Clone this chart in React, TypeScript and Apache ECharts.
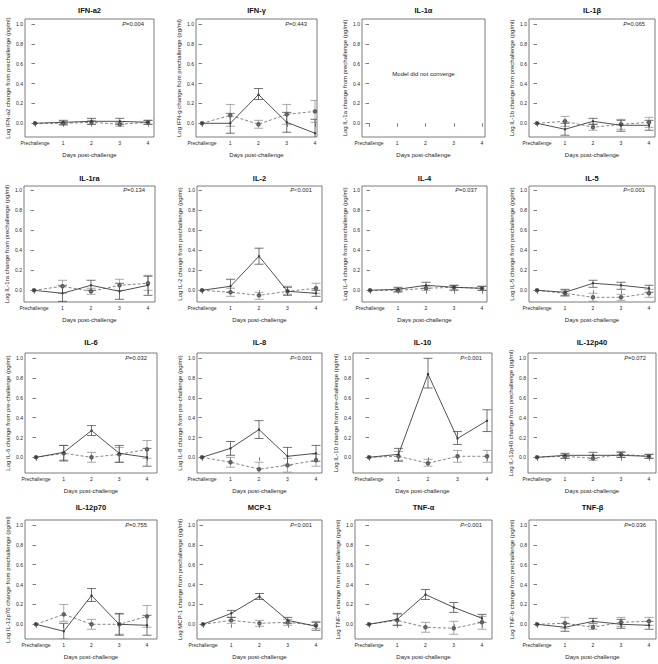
import React, { useEffect, useRef } from "react";
import * as echarts from "echarts";

const days = [0, 1, 2, 3, 4];
const dayLabels = ["Prechallenge", "1", "2", "3", "4"];
const yTicks = [0, 0.2, 0.4, 0.6, 0.8, 1.0];

const panelNames = ["IFN-a2", "IFN-γ", "IL-1α", "IL-1β", "IL-1ra", "IL-2", "IL-4", "IL-5", "IL-6", "IL-8", "IL-10", "IL-12p40", "IL-12p70", "MCP-1", "TNF-α", "TNF-β"];

const yNames = [
  "Log IFN-a2 change from prechallenge (pg/ml)",
  "Log IFN-g change from prechallenge (pg/ml)",
  "Log IL-1a change from prechallenge (pg/ml)",
  "Log IL-1b change from prechallenge (pg/ml)",
  "Log IL-1ra change from prechallenge (pg/ml)",
  "Log IL-2 change from prechallenge (pg/ml)",
  "Log IL-4 change from prechallenge (pg/ml)",
  "Log IL-5 change from prechallenge (pg/ml)",
  "Log IL-6 change from pre-challenge (pg/ml)",
  "Log IL-8 change from pre-challenge (pg/ml)",
  "Log IL-10 change from pre-challenge (pg/ml)",
  "Log IL-12p40 change from prechallenge (pg/ml)",
  "Log IL-12p70 change from prechallenge (pg/ml)",
  "Log MCP-1 change from prechallenge (pg/ml)",
  "Log TNF-a change from prechallenge (pg/ml)",
  "Log TNF-b change from prechallenge (pg/ml)",
];

const pValues = ["=0.004", "=0.443", "", "=0.065", "=0.134", "<0.001", "=0.037", "<0.001", "=0.032", "<0.001", "<0.001", "=0.072", "=0.755", "<0.001", "<0.001", "=0.036"];

const xAxisName = "Days post-challenge";
const noModelNote = "Model did not converge";

// Solid line (challenged group)
const solidMean = [
  [0, 0.01, 0.02, 0.02, 0.01],
  [0, 0.0, 0.29, 0.01, -0.1],
  null,
  [0, -0.06, 0.02, -0.02, -0.02],
  [0, -0.03, 0.05, -0.01, 0.05],
  [0, 0.04, 0.34, -0.01, -0.03],
  [0, 0.01, 0.05, 0.03, 0.02],
  [0, -0.02, 0.07, 0.05, 0.02],
  [0, 0.05, 0.27, 0.04, 0.0],
  [0, 0.09, 0.28, 0.01, 0.04],
  [0, 0.03, 0.84, 0.19, 0.37],
  [0, 0.02, 0.02, 0.02, 0.01],
  [0, -0.07, 0.29, 0.0, -0.01],
  [0, 0.11, 0.28, 0.04, -0.02],
  [0, 0.05, 0.3, 0.17, 0.06],
  [0, -0.03, 0.03, 0.0, -0.01],
];
const solidLow = [
  [0, -0.01, -0.01, -0.01, -0.01],
  [0, -0.1, 0.24, -0.09, -0.24],
  null,
  [0, -0.12, -0.01, -0.08, -0.07],
  [0, -0.11, 0.0, -0.09, -0.05],
  [0, -0.02, 0.26, -0.05, -0.06],
  [0, -0.01, 0.02, 0.0, 0.0],
  [0, -0.05, 0.03, 0.01, -0.02],
  [0, -0.03, 0.22, -0.05, -0.09],
  [0, 0.02, 0.19, -0.08, -0.04],
  [0, -0.04, 0.7, 0.13, 0.26],
  [0, -0.01, -0.01, 0.0, -0.01],
  [0, -0.15, 0.23, -0.11, -0.11],
  [0, 0.07, 0.25, 0.01, -0.06],
  [0, -0.01, 0.25, 0.12, 0.02],
  [0, -0.07, 0.01, -0.04, -0.05],
];
const solidHigh = [
  [0, 0.03, 0.05, 0.05, 0.03],
  [0, 0.1, 0.35, 0.11, 0.04],
  null,
  [0, 0.0, 0.05, 0.03, 0.03],
  [0, 0.05, 0.1, 0.07, 0.14],
  [0, 0.11, 0.42, 0.03, 0.0],
  [0, 0.03, 0.08, 0.05, 0.04],
  [0, 0.01, 0.1, 0.08, 0.05],
  [0, 0.12, 0.32, 0.12, 0.09],
  [0, 0.16, 0.37, 0.1, 0.12],
  [0, 0.09, 1.0, 0.26, 0.48],
  [0, 0.04, 0.05, 0.05, 0.03],
  [0, 0.01, 0.36, 0.11, 0.09],
  [0, 0.14, 0.31, 0.07, 0.02],
  [0, 0.11, 0.35, 0.22, 0.1],
  [0, 0.01, 0.06, 0.05, 0.03],
];

// Dashed line (control group)
const dashedMean = [
  [0, 0.0, 0.01, -0.01, 0.01],
  [0, 0.08, -0.01, 0.09, 0.12],
  null,
  [0, 0.02, -0.04, -0.01, 0.01],
  [0, 0.04, -0.01, 0.05, 0.07],
  [0, -0.02, -0.05, -0.01, 0.02],
  [0, 0.0, 0.02, 0.03, 0.02],
  [0, -0.03, -0.07, -0.07, -0.03],
  [0, 0.04, 0.0, 0.03, 0.08],
  [0, -0.05, -0.12, -0.08, -0.03],
  [0, 0.01, -0.06, 0.01, 0.01],
  [0, 0.01, -0.01, 0.03, 0.01],
  [0, 0.1, 0.0, 0.0, 0.08],
  [0, 0.04, 0.01, 0.02, -0.01],
  [0, 0.04, -0.03, -0.04, 0.02],
  [0, 0.01, -0.03, 0.02, 0.03],
];
const dashedLow = [
  [0, -0.02, -0.01, -0.03, -0.01],
  [0, -0.03, -0.05, -0.01, 0.01],
  null,
  [0, -0.03, -0.07, -0.06, -0.04],
  [0, -0.03, -0.04, 0.0, 0.0],
  [0, -0.06, -0.09, -0.04, -0.03],
  [0, -0.02, 0.0, 0.01, 0.0],
  [0, -0.06, -0.11, -0.1, -0.07],
  [0, -0.04, -0.05, -0.05, -0.01],
  [0, -0.1, -0.18, -0.15, -0.09],
  [0, -0.03, -0.09, -0.05, -0.05],
  [0, -0.01, -0.03, 0.0, -0.01],
  [0, 0.03, -0.05, -0.1, -0.03],
  [0, 0.01, -0.02, -0.01, -0.04],
  [0, -0.01, -0.08, -0.1, -0.05],
  [0, -0.04, -0.05, -0.02, -0.01],
];
const dashedHigh = [
  [0, 0.02, 0.03, 0.01, 0.03],
  [0, 0.19, 0.03, 0.19, 0.23],
  null,
  [0, 0.07, -0.01, 0.04, 0.06],
  [0, 0.1, 0.02, 0.11, 0.15],
  [0, 0.02, -0.02, 0.04, 0.07],
  [0, 0.02, 0.04, 0.05, 0.04],
  [0, 0.0, -0.03, -0.04, 0.01],
  [0, 0.12, 0.05, 0.1, 0.17],
  [0, 0.0, -0.05, -0.01, 0.03],
  [0, 0.06, -0.02, 0.07, 0.07],
  [0, 0.03, 0.02, 0.06, 0.03],
  [0, 0.2, 0.05, 0.1, 0.19],
  [0, 0.07, 0.04, 0.05, 0.03],
  [0, 0.1, 0.02, 0.03, 0.08],
  [0, 0.07, -0.01, 0.07, 0.07],
];

// Layout (pixels): per row [boxTop, boxBottom, pixel of 1.0, pixel of 0.0, title y]
const rowBox = [
  [19, 137, 24, 123.3, 10],
  [186, 302, 190, 290.3, 178],
  [353, 473, 358.3, 457.3, 342],
  [520, 639, 525, 624.3, 507],
];
// per panel [boxLeft, boxRight, pixel of Prechallenge, pixel of day 4]
const panelX = [
  [25, 154, 35, 148], [196, 317, 202, 315], [362, 485, 369, 482], [529, 655, 537, 649],
  [24, 155, 34, 148], [197, 322, 202, 316], [362, 487, 370, 482], [529, 655, 537, 649],
  [25, 157, 36, 147], [197, 322, 202, 316], [353, 492, 369, 487], [528, 656, 537, 649],
  [25, 157, 36, 147], [197, 322, 203, 316], [355, 492, 369, 482], [529, 656, 537, 649],
];

const FONT = "'Liberation Sans', Arial, Helvetica, sans-serif";
const SOLID = "#3c3c3c";
const DASHED = "#5e5e5e";
const SOLID_BAR = "#444444";
const DASHED_BAR = "#8c8c8c";
const TEXT = "#262626";

function errorBarRenderer(color: string) {
  return (params: any, api: any) => {
    const x = api.value(0);
    const lo = api.value(1);
    const hi = api.value(2);
    const p1 = api.coord([x, lo]);
    const p2 = api.coord([x, hi]);
    const hw = 4.5;
    const style = { stroke: color, lineWidth: 0.75, fill: null };
    return {
      type: "group",
      children: [
        { type: "line", shape: { x1: p1[0], y1: p1[1], x2: p2[0], y2: p2[1] }, style },
        { type: "line", shape: { x1: p1[0] - hw, y1: p1[1], x2: p1[0] + hw, y2: p1[1] }, style },
        { type: "line", shape: { x1: p2[0] - hw, y1: p2[1], x2: p2[0] + hw, y2: p2[1] }, style },
      ],
    };
  };
}

function buildOption() {
  const grid: any[] = [];
  const xAxis: any[] = [];
  const yAxis: any[] = [];
  const series: any[] = [];
  const graphic: any[] = [];

  for (let i = 0; i < 16; i++) {
    const r = Math.floor(i / 4);
    const [top, bottom, y1, y0, titleY] = rowBox[r];
    const [bl, br, xp, x4] = panelX[i];
    const ppu = y0 - y1;
    const yMin = -(bottom - y0) / ppu;
    const yMax = 1 + (y1 - top) / ppu;
    const xpu = (x4 - xp) / 4;
    const xMin = -(xp - bl) / xpu;
    const xMax = 4 + (br - x4) / xpu;

    grid.push({
      left: bl,
      top,
      width: br - bl,
      height: bottom - top,
      show: true,
      borderColor: "#5a5a5a",
      borderWidth: 0.8,
      backgroundColor: "transparent",
      containLabel: false,
      outerBoundsMode: "none",
    });

    xAxis.push({
      type: "value",
      gridIndex: i,
      min: xMin,
      max: xMax,
      axisLine: { show: false },
      splitLine: { show: false },
      axisTick: { show: true, inside: false, length: 3.5, customValues: days, lineStyle: { color: "#5a5a5a", width: 0.8 } },
      axisLabel: {
        customValues: days,
        formatter: (v: number) => {
          const k = days.indexOf(v);
          return k >= 0 ? dayLabels[k] : "";
        },
        fontSize: 5,
        fontFamily: FONT,
        color: TEXT,
        margin: 3,
      },
      name: xAxisName,
      nameLocation: "middle",
      nameGap: 15,
      nameTextStyle: { fontSize: 6, fontFamily: FONT, color: TEXT },
    });

    yAxis.push({
      type: "value",
      gridIndex: i,
      min: yMin,
      max: yMax,
      axisLine: { show: false },
      splitLine: { show: false },
      axisTick: { show: true, inside: false, length: 3.5, customValues: yTicks, lineStyle: { color: "#5a5a5a", width: 0.8 } },
      axisLabel: {
        customValues: yTicks,
        formatter: (v: number) => v.toFixed(1),
        fontSize: 5,
        fontFamily: FONT,
        color: TEXT,
        margin: 2,
      },
      name: yNames[i],
      nameLocation: "middle",
      nameGap: 14,
      nameTextStyle: { fontSize: 6, fontFamily: FONT, color: TEXT },
    });

    graphic.push({
      type: "text",
      x: (bl + br) / 2,
      y: titleY,
      style: { text: panelNames[i], fontSize: 7.5, fontWeight: "bold", fontFamily: FONT, fill: "#111", align: "center", verticalAlign: "middle" },
    });

    if (pValues[i]) {
      graphic.push({
        type: "text",
        x: br - 10,
        y: y1,
        style: {
          text: "{i|P}" + pValues[i],
          fontSize: 5.8,
          fontFamily: FONT,
          fill: TEXT,
          align: "right",
          verticalAlign: "middle",
          rich: { i: { fontStyle: "italic", fontSize: 5.8, fontFamily: FONT, fill: TEXT } },
        },
      });
    }

    const sm = solidMean[i];
    if (!sm) {
      graphic.push({
        type: "text",
        x: (bl + br) / 2,
        y: y0 - 0.5 * ppu,
        style: { text: noModelNote, fontSize: 6, fontFamily: FONT, fill: TEXT, align: "center", verticalAlign: "middle" },
      });
      continue;
    }
    const dm = dashedMean[i]!;
    const sl = solidLow[i]!;
    const sh = solidHigh[i]!;
    const dl = dashedLow[i]!;
    const dh = dashedHigh[i]!;

    series.push({
      type: "custom",
      xAxisIndex: i,
      yAxisIndex: i,
      clip: true,
      renderItem: errorBarRenderer(DASHED_BAR),
      data: days.slice(1).map((d) => [d, dl[d], dh[d]]),
      z: 2,
    });
    series.push({
      type: "custom",
      xAxisIndex: i,
      yAxisIndex: i,
      clip: true,
      renderItem: errorBarRenderer(SOLID_BAR),
      data: days.slice(1).map((d) => [d, sl[d], sh[d]]),
      z: 3,
    });
    series.push({
      type: "line",
      xAxisIndex: i,
      yAxisIndex: i,
      data: days.map((d, j) => [d, dm[j]]),
      symbol: "emptyCircle",
      symbolSize: 2.5,
      lineStyle: { color: DASHED, width: 0.75, type: [3, 2] },
      itemStyle: { color: DASHED, borderWidth: 0.6 },
      z: 4,
    });
    series.push({
      type: "line",
      xAxisIndex: i,
      yAxisIndex: i,
      data: days.map((d, j) => [d, sm[j]]),
      symbol: "circle",
      symbolSize: 2.4,
      lineStyle: { color: SOLID, width: 0.9 },
      itemStyle: { color: SOLID },
      z: 5,
    });
  }

  return {
    animation: false,
    backgroundColor: "#ffffff",
    grid,
    xAxis,
    yAxis,
    series,
    graphic,
  };
}

export default function App() {
  const ref = useRef<HTMLDivElement>(null);
  useEffect(() => {
    if (!ref.current) return;
    const chart = echarts.init(ref.current, undefined, { renderer: "svg" });
    chart.setOption(buildOption() as any);
    return () => chart.dispose();
  }, []);
  return (
    <div
      ref={ref}
      style={{ position: "fixed", left: 0, top: 0, width: 658, height: 664, background: "#fff" }}
    />
  );
}
